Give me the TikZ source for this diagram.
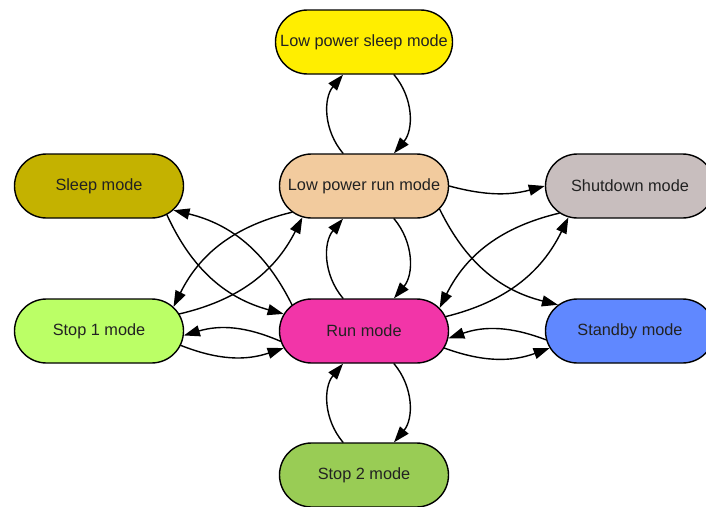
\documentclass[tikz,border=0pt]{standalone}
\usepackage{fontspec}
\setmainfont{Liberation Sans}
\usetikzlibrary{arrows.meta,shapes.misc}

% Fill colours of the modes
\definecolor{lpsleepfill}{HTML}{FFEE00}
\definecolor{sleepfill}{HTML}{C4B200}
\definecolor{lprunfill}{HTML}{F2CB9E}
\definecolor{shutfill}{HTML}{C8BEBE}
\definecolor{stoponefill}{HTML}{BBFF66}
\definecolor{runfill}{HTML}{F235A8}
\definecolor{standbyfill}{HTML}{6088FF}
\definecolor{stoptwofill}{HTML}{99CC55}
\definecolor{labelgrey}{HTML}{222222}

\tikzset{
  mode/.style={rounded rectangle, draw=black, line width=1.4pt,
    minimum width=115pt, minimum height=64pt, inner xsep=-27pt,
    font=\fontsize{16.3}{19}\selectfont, text=labelgrey},
  trans/.style={->, line width=1.4pt}
}

\begin{document}
\begin{tikzpicture}[x=1pt, y=-1pt, line cap=round, line join=round,
    >={Triangle[length=16pt,width=11pt]}]
  % Frame of the picture
  \useasboundingbox (0,0) rectangle (706,506);
  \clip (0,0) rectangle (706,506);

  % Column and row positions
  \def\xl{99} \def\xm{364} \def\xr{630}
  \def\ya{42} \def\yb{186} \def\yc{331} \def\yd{475}

  % Modes
  \node[mode, fill=lpsleepfill, minimum width=123pt] (lps) at (\xm,\ya) {Low power sleep mode};
  \node[mode, fill=sleepfill] (sleep) at (\xl,\yb) {Sleep mode};
  \node[mode, fill=lprunfill] (lpr) at (\xm,\yb) {Low power run mode};
  \node[mode, fill=shutfill] (shut) at (\xr,\yb) {Shutdown mode};
  \node[mode, fill=stoponefill] (stopone) at (\xl,\yc) {Stop 1 mode};
  \node[mode, fill=runfill] (run) at (\xm,\yc) {Run mode};
  \node[mode, fill=standbyfill] (standby) at (\xr,\yc) {Standby mode};
  \node[mode, fill=stoptwofill] (stoptwo) at (\xm,\yd) {Stop 2 mode};

  % Low power sleep <-> low power run
  \draw[trans] ([xshift=-21pt]lpr.north) to[bend left=40] ([xshift=-21pt]lps.south);
  \draw[trans] ([xshift=30pt]lps.south) to[bend left=40] ([xshift=30pt]lpr.north);

  % Low power run <-> run
  \draw[trans] ([xshift=-21pt]run.north) to[bend left=40] ([xshift=-21pt]lpr.south);
  \draw[trans] ([xshift=30pt]lpr.south) to[bend left=40] ([xshift=30pt]run.north);

  % Run <-> stop 2
  \draw[trans] ([xshift=-21pt]stoptwo.north) to[bend left=40] ([xshift=-21pt]run.south);
  \draw[trans] ([xshift=30pt]run.south) to[bend left=40] ([xshift=30pt]stoptwo.north);

  % Sleep <-> run
  \draw[trans] (sleep.-23) to[bend right=25] (run.168);
  \draw[trans] (run.160) to[bend right=25] (sleep.-18);

  % Low power run <-> stop 1
  \draw[trans] (lpr.200) to[bend right=25] (stopone.18);
  \draw[trans] (stopone.12) to[bend right=25] (lpr.207);

  % Run <-> stop 1
  \draw[trans] (run.187) to[bend right=20] (stopone.-3);
  \draw[trans] (stopone.-10) to[bend right=20] (run.192);

  % Low power run -> shutdown, standby
  \draw[trans] (lpr.east) to[bend right=15] (shut.west);
  \draw[trans] (lpr.-17) to[bend right=25] (standby.160);

  % Shutdown <-> run
  \draw[trans] (shut.201) to[bend right=25] (run.17);
  \draw[trans] (run.10) to[bend right=25] (shut.207);

  % Standby <-> run
  \draw[trans] (standby.186) to[bend right=20] (run.-5);
  \draw[trans] (run.-12) to[bend right=20] (standby.192);
\end{tikzpicture}
\end{document}
